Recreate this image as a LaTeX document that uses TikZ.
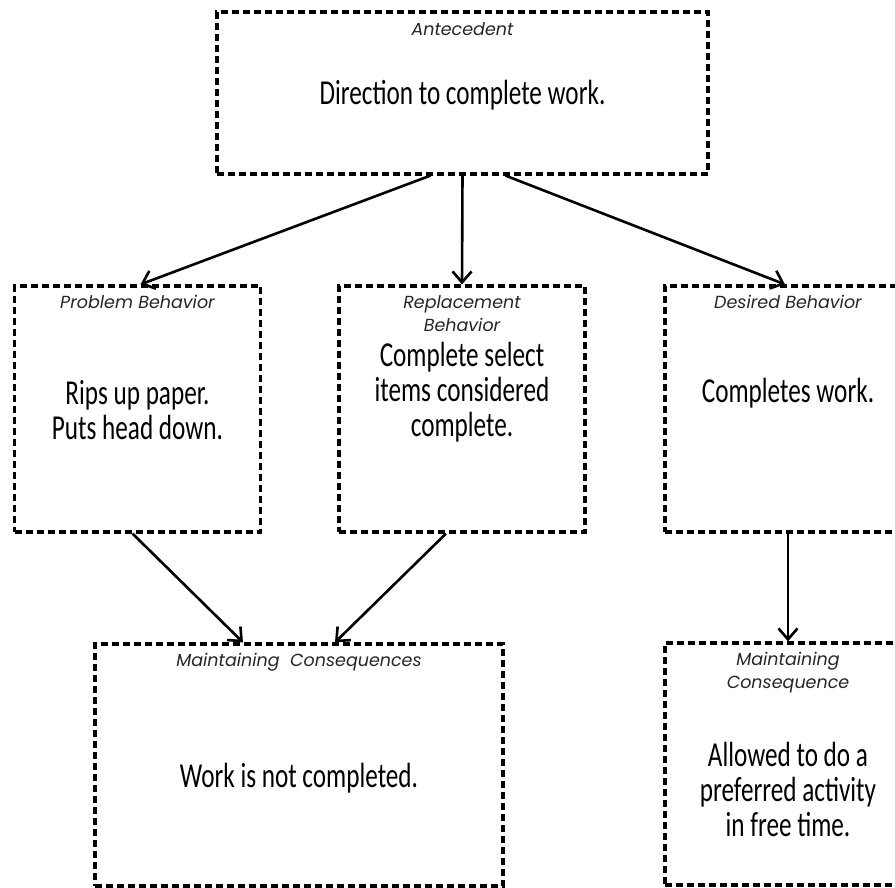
\documentclass[tikz,border=0pt]{standalone}
\usepackage{fontspec}
\usepackage{tikz}
\usetikzlibrary{positioning,arrows.meta}
\newfontfamily\titlefont{Poppins}
\newfontfamily\handfont[FakeStretch=0.72]{Carlito}

\begin{document}
\begin{tikzpicture}[
    x=1pt, y=-1pt,
    node distance=1.2cm,
    box/.style={
        draw,
        dash pattern=on 7pt off 4pt,
        line width=3.2pt,
        minimum width=246pt,
        minimum height=246pt,
        inner sep=0pt
    },
    heading/.style={
        font=\titlefont\itshape\fontsize{17.5}{23}\selectfont,
        align=center,
        inner sep=0pt,
        text=black!85
    },
    body/.style={
        font=\handfont\fontsize{35}{35}\selectfont,
        align=center,
        inner sep=0pt
    },
    arrow/.style={
        -{Straight Barb[length=11pt,width=19pt]},
        line width=2.6pt
    }
]

\useasboundingbox (0,0) rectangle (895,888);
\clip (0,0) rectangle (895,888);

\node[box, minimum width=491pt, minimum height=162pt] (ante) at (462.5,93) {};
\node[heading, below=12pt of ante.north] (anteTitle) {Antecedent};
\node[body] (anteText) at (462.5,95) {Direction to complete work.};

\node[box] (problem) at (137.5,409) {};
\node[heading, below=11pt of problem.north] (problemTitle) {Problem Behavior};
\node[body] (problemText) at (137.5,410) {Rips up paper.\\Puts head down.};

\node[box] (replace) at (462,409) {};
\node[heading, below=11pt of replace.north] (replaceTitle) {Replacement\\Behavior};
\node[body] (replaceText) at (462,392) {Complete select\\items considered\\complete.};

\node[box] (desired) at (788,409) {};
\node[heading, below=11pt of desired.north] (desiredTitle) {Desired Behavior};
\node[body] (desiredText) at (788,393) {Completes work.};

\node[box, minimum width=408pt, minimum height=242pt] (maintain) at (299,765) {};
\node[heading, below=11pt of maintain.north] (maintainTitle) {Maintaining\ \ Consequences};
\node[body] (maintainText) at (299,778) {Work is not completed.};

\node[box, minimum height=242pt] (reward) at (788,764) {};
\node[heading, below=11pt of reward.north] (rewardTitle) {Maintaining\\Consequence};
\node[body] (rewardText) at (788,789) {Allowed to do a\\preferred activity\\in free time.};

\draw[arrow] ([xshift=-32pt]ante.south) -- ([xshift=3pt]problem.north);

\draw[arrow] (ante.south) -- (replace.north);

\draw[arrow] ([xshift=43pt]ante.south) -- ([xshift=-3pt]desired.north);

\draw[arrow] ([xshift=-5pt]problem.south) -- ([xshift=-56pt]maintain.north);

\draw[arrow] ([xshift=-16pt]replace.south) -- ([xshift=36pt]maintain.north);

\draw[arrow] (desired.south) -- (reward.north);

\end{tikzpicture}
\end{document}
